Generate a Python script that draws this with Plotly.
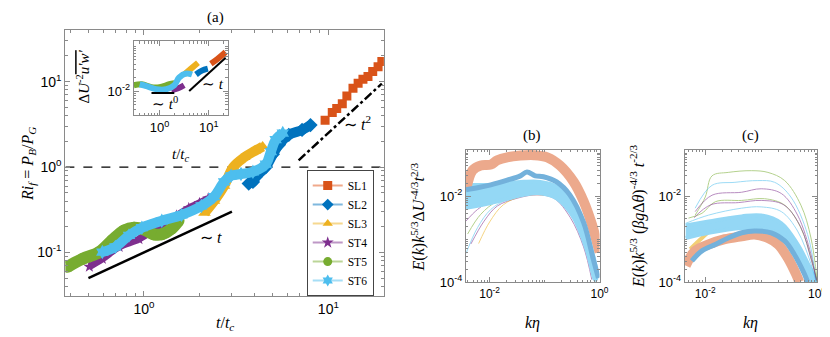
import numpy as np
import plotly.graph_objects as go

# ---- panel (a): Ri_f vs t/t_c ----
sl1_t = [9.6, 10.5, 11.1, 11.9, 12.6, 13.6, 14.5, 15.4, 16.4, 17.4, 18.6, 19.5]
sl1_ri = [3.54, 4.36, 4.85, 5.5, 6.8, 8.4, 9.6, 10.7, 11.5, 13.2, 15.0, 17.2]
sl2_t = [3.7, 3.9, 4.05, 4.58, 5.0, 5.4, 6.1, 7.2, 8.0]
sl2_ri = [0.64, 0.67, 0.77, 1.0, 1.41, 1.83, 2.38, 2.72, 3.1]
sl3_t = [2.13, 2.4, 2.72, 3.05, 3.5, 4.0, 4.4]
sl3_ri = [0.29, 0.4, 0.6, 1.0, 1.3, 1.55, 1.74]
st4_t = [0.506, 0.595, 0.734, 0.94, 1.2, 1.5, 1.75, 2.0, 2.23]
st4_ri = [0.068, 0.084, 0.116, 0.143, 0.2, 0.27, 0.33, 0.38, 0.43]
st5_t = [0.386, 0.464, 0.573, 0.673, 0.78, 0.884, 1.0, 1.13, 1.25, 1.41, 1.54]
st5_ri = [0.068, 0.084, 0.101, 0.139, 0.181, 0.195, 0.186, 0.163, 0.163, 0.19, 0.235]
st6_t = [0.595, 0.70, 0.83, 0.975, 1.25, 1.6, 2.05, 2.4, 2.72, 2.97, 3.36, 3.9, 4.58, 4.88, 5.18, 5.66]
st6_ri = [0.101, 0.116, 0.158, 0.195, 0.235, 0.275, 0.35, 0.45, 0.67, 0.79, 0.83, 0.88, 1.08, 1.52, 2.09, 2.5]

slope1_t = [0.5, 3.0]
slope1_ri = [0.05, 0.3]
slope2_t = [6.9, 19.5]
slope2_ri = [1.2, 9.5]
ri_crit_t = [0.375, 20.0]
ri_crit = [1.0, 1.0]

# inset: Delta U^-2 u'w'
in_st5_t = [0.302, 0.437, 0.692, 1.0, 1.585, 2.0]
in_st5_y = [0.0135, 0.0142, 0.0122, 0.0122, 0.0142, 0.0149]
in_st6_t = [0.398, 0.55, 0.871, 1.38, 2.0, 2.51, 3.47, 4.57]
in_st6_y = [0.0142, 0.0129, 0.011, 0.011, 0.0135, 0.0201, 0.0246, 0.0234]
in_st4_t = [1.74, 2.4, 3.16]
in_st4_y = [0.0105, 0.0116, 0.0135]
in_sl3_t = [3.16, 4.37, 6.03]
in_sl3_y = [0.0234, 0.0316, 0.0427]
in_sl2_t = [5.5, 7.24, 9.55]
in_sl2_y = [0.0234, 0.0286, 0.0316]
in_sl1_t = [11.0, 15.1, 21.9]
in_sl1_y = [0.0406, 0.0521, 0.0741]
in_flat_t = [0.69, 2.0]
in_flat_y = [0.0091, 0.0091]
in_lin_t = [4.0, 21.9]
in_lin_y = [0.01, 0.055]

# ---- panel (b): velocity spectra ----
b_sl1_k = [0.00372, 0.0049, 0.0069, 0.0105, 0.0138, 0.0209, 0.0363, 0.0646, 0.112, 0.191, 0.339, 0.513, 0.724, 1.0]
b_sl1_e = [0.0138, 0.0398, 0.0513, 0.0537, 0.0676, 0.0794, 0.0871, 0.0891, 0.0794, 0.0513, 0.0214, 0.00759, 0.00224, 0.000501]
b_sl2_k = [0.00372, 0.0063, 0.0105, 0.0209, 0.0363, 0.0479, 0.0676, 0.0955, 0.166, 0.288, 0.513, 0.776, 0.955]
b_sl2_e = [0.0141, 0.0158, 0.0182, 0.0234, 0.0295, 0.0363, 0.0295, 0.0282, 0.0214, 0.0107, 0.00245, 0.000331, 0.000126]
b_band_top_k = [0.00372, 0.0105, 0.0417, 0.0832, 0.166, 0.339, 0.589, 0.891]
b_band_top_e = [0.0182, 0.0182, 0.0214, 0.0214, 0.0166, 0.00646, 0.00132, 0.000138]
b_band_bot_k = [0.00372, 0.0105, 0.0417, 0.0832, 0.166, 0.339, 0.589, 0.832]
b_band_bot_e = [0.00537, 0.00692, 0.0107, 0.0117, 0.00891, 0.00316, 0.00055, 0.000115]
b_thin = [
    ("#4DBEEE", [0.00372, 0.00603, 0.0105, 0.0209, 0.0646, 0.148, 0.295, 0.513, 0.776],
     [0.000468, 0.00186, 0.0049, 0.00832, 0.0117, 0.00977, 0.0038, 0.000776, 0.000115]),
    ("#7E2F8E", [0.00457, 0.00794, 0.0138, 0.0316, 0.0724, 0.148, 0.295, 0.513, 0.724],
     [0.000776, 0.00263, 0.00589, 0.00891, 0.0107, 0.00891, 0.00316, 0.000661, 0.000115]),
    ("#77AC30", [0.00398, 0.00692, 0.0138, 0.0417, 0.0832, 0.17, 0.339, 0.589, 0.832],
     [0.00132, 0.0038, 0.00759, 0.0112, 0.0123, 0.00977, 0.00316, 0.00055, 0.000105]),
    ("#7E2F8E", [0.00372, 0.00603, 0.012, 0.0417, 0.1, 0.2, 0.355, 0.562, 0.794],
     [0.00263, 0.0049, 0.00832, 0.0117, 0.0112, 0.00794, 0.00282, 0.000631, 0.000112]),
    ("#EDB120", [0.00631, 0.01, 0.0178, 0.0398, 0.1, 0.2, 0.355, 0.562, 0.794],
     [0.000794, 0.00251, 0.00631, 0.01, 0.0105, 0.00794, 0.00282, 0.000631, 0.000112]),
]

# ---- panel (c): scalar spectra ----
c_sl1_k = [0.00447, 0.0066, 0.0115, 0.0224, 0.0447, 0.0759, 0.132, 0.2, 0.295, 0.417, 0.479]
c_sl1_e = [0.000245, 0.000537, 0.000759, 0.001, 0.00117, 0.00129, 0.00107, 0.000759, 0.00038, 0.000158, 0.000102]
c_sl2_k = [0.00575, 0.00871, 0.0151, 0.0257, 0.0447, 0.0759, 0.151, 0.263, 0.389, 0.589, 0.676]
c_sl2_e = [0.000316, 0.000537, 0.000759, 0.00107, 0.00141, 0.00155, 0.00141, 0.000912, 0.000447, 0.000158, 0.000102]
c_sl3_k = [0.00537, 0.00871, 0.0224, 0.0447]
c_sl3_e = [0.000589, 0.00107, 0.00282, 0.00309]
c_band_top_k = [0.00447, 0.0115, 0.0447, 0.1, 0.229, 0.447, 0.776, 0.955]
c_band_top_e = [0.00209, 0.00257, 0.00339, 0.00355, 0.00234, 0.000759, 0.000191, 0.000102]
c_band_bot_k = [0.00447, 0.0115, 0.0447, 0.1, 0.229, 0.447, 0.724]
c_band_bot_e = [0.00107, 0.00141, 0.00182, 0.00178, 0.00129, 0.000447, 0.000102]
c_thin = [
    ("#77AC30", [0.0066, 0.01, 0.0132, 0.0257, 0.0676, 0.132, 0.263, 0.513, 0.776, 1.0],
     [0.00363, 0.00955, 0.0295, 0.0355, 0.0389, 0.0355, 0.0229, 0.00617, 0.00107, 0.000112]),
    ("#4DBEEE", [0.0066, 0.0132, 0.0339, 0.0871, 0.174, 0.339, 0.676, 0.955],
     [0.00525, 0.0178, 0.0209, 0.0229, 0.0209, 0.00955, 0.00129, 0.000112]),
    ("#7E2F8E", [0.0066, 0.0132, 0.0447, 0.1, 0.229, 0.447, 0.776, 0.955],
     [0.00437, 0.0105, 0.0123, 0.0148, 0.0115, 0.00363, 0.000447, 0.000112]),
    ("#77AC30", [0.00501, 0.00871, 0.0151, 0.0447, 0.115, 0.263, 0.513, 0.832, 1.0],
     [0.00309, 0.00398, 0.00741, 0.00794, 0.00871, 0.00617, 0.00182, 0.000269, 0.000102]),
    ("#4DBEEE", [0.00447, 0.0115, 0.0447, 0.1, 0.229, 0.447, 0.776, 0.955],
     [0.00234, 0.00363, 0.00525, 0.00562, 0.00437, 0.00155, 0.000269, 0.000102]),
    ("#7E2F8E", [0.00631, 0.0126, 0.0398, 0.1, 0.251, 0.501, 0.794, 1.0],
     [0.00316, 0.00631, 0.00708, 0.00794, 0.00631, 0.002, 0.000316, 0.000105]),
]

names = ["SL1", "SL2", "SL3", "ST4", "ST5", "ST6"]
colors = ["#D95319", "#0072BD", "#EDB120", "#7E2F8E", "#77AC30", "#4DBEEE"]
light = ["#F0A98B", "#7FB8DE", "#F6D88F", "#BE97C6", "#BBD597", "#A6DEF6"]
symbols = ["square", "diamond", "triangle-up", "star", "circle", "hexagram"]

main_tickvals = [1, 10]
main_ticktext = ["10<sup>0</sup>", "10<sup>1</sup>"]
main_ytickvals = [0.1, 1, 10]
main_yticktext = ["10<sup>-1</sup>", "10<sup>0</sup>", "10<sup>1</sup>"]
spec_xtickvals = [0.01, 1]
spec_xticktext = ["10<sup>-2</sup>", "10<sup>0</sup>"]
spec_ytickvals = [1e-4, 1e-2]
spec_yticktext = ["10<sup>-4</sup>", "10<sup>-2</sup>"]
inset_ytickvals = [0.01]
inset_yticktext = ["10<sup>-2</sup>"]

SERIF = "Liberation Serif, Times New Roman, serif"
SANS = "Liberation Sans, Arial, sans-serif"
AX = "#8a8a8a"

fig = go.Figure()

def sc(x, y, ax, **kw):
    fig.add_trace(go.Scatter(x=x, y=y, xaxis="x" + ax, yaxis="y" + ax,
                             showlegend=False, hoverinfo="skip", **kw))

# main panel reference lines
sc(ri_crit_t, ri_crit, "", mode="lines", line=dict(color="black", width=1.3, dash="dash"))
sc(slope1_t, slope1_ri, "", mode="lines", line=dict(color="black", width=2.5))
sc(slope2_t, slope2_ri, "", mode="lines", line=dict(color="black", width=2.5, dash="dashdot"))

main_data = [(sl1_t, sl1_ri), (sl2_t, sl2_ri), (sl3_t, sl3_ri),
             (st4_t, st4_ri), (st5_t, st5_ri), (st6_t, st6_ri)]
widths = [0, 10, 10, 7, 12, 10]
msize = [9, 11, 11, 9, 12, 11]
for i, (t, r) in enumerate(main_data):
    if i == 0:
        sc(t, r, "", mode="markers",
           marker=dict(symbol=symbols[i], size=msize[i], color=colors[i]))
    else:
        sc(t, r, "", mode="lines+markers", line=dict(color=colors[i], width=widths[i], shape="spline"),
           marker=dict(symbol=symbols[i], size=msize[i], color=colors[i]))

# legend-only entries
for i in range(6):
    fig.add_trace(go.Scatter(x=[None], y=[None], name=names[i], mode="lines+markers",
                             line=dict(color=light[i], width=2),
                             marker=dict(symbol=symbols[i], size=9, color=colors[i]),
                             xaxis="x", yaxis="y"))

# inset
inset_data = [(in_sl1_t, in_sl1_y), (in_sl2_t, in_sl2_y), (in_sl3_t, in_sl3_y),
              (in_st4_t, in_st4_y), (in_st5_t, in_st5_y), (in_st6_t, in_st6_y)]
for i, (t, y) in enumerate(inset_data):
    sc(t, y, "2", mode="lines", line=dict(color=colors[i], width=6, shape="spline"))
sc(in_flat_t, in_flat_y, "2", mode="lines", line=dict(color="black", width=2))
sc(in_lin_t, in_lin_y, "2", mode="lines", line=dict(color="black", width=2))

# panel (b)
for col, k, e in b_thin:
    sc(k, e, "3", mode="lines", line=dict(color=col, width=1, shape="spline"), opacity=0.55)
sc(b_band_top_k + b_band_bot_k[::-1], b_band_top_e + b_band_bot_e[::-1], "3", mode="lines",
   fill="toself", fillcolor="#94D8F5", line=dict(color="#94D8F5", width=4, shape="spline"))
sc(b_sl1_k, b_sl1_e, "3", mode="lines", line=dict(color="#ECA98C", width=10, shape="spline"))
sc(b_sl2_k, b_sl2_e, "3", mode="lines", line=dict(color="#73B1DB", width=5, shape="spline"))

# panel (c)
sc(c_sl3_k, c_sl3_e, "4", mode="lines", line=dict(color="#F3CF76", width=4, shape="spline"))
sc(c_band_top_k + c_band_bot_k[::-1], c_band_top_e + c_band_bot_e[::-1], "4", mode="lines",
   fill="toself", fillcolor="#94D8F5", line=dict(color="#94D8F5", width=4, shape="spline"))
sc(c_sl1_k, c_sl1_e, "4", mode="lines", line=dict(color="#ECA98C", width=10, shape="spline"))
sc(c_sl2_k, c_sl2_e, "4", mode="lines", line=dict(color="#73B1DB", width=5, shape="spline"))
for col, k, e in c_thin:
    sc(k, e, "4", mode="lines", line=dict(color=col, width=1, shape="spline"), opacity=0.55)


def logax(domain, rng, tv, tt, size=13, anchor=None):
    return dict(type="log", domain=domain, range=rng, tickvals=tv, ticktext=tt,
                ticks="inside", ticklen=5, tickcolor=AX, showline=True, linecolor=AX,
                linewidth=1, mirror="allticks", showgrid=False, zeroline=False,
                tickfont=dict(family=SANS, size=size, color="black"), anchor=anchor,
                minor=dict(ticks="inside", ticklen=2.5, tickcolor=AX, dtick="D1", showgrid=False))


W, H = 830, 337
def px(x0, x1):
    return [x0 / W, x1 / W]
def py(top, bot):
    return [1 - bot / H, 1 - top / H]

fig.update_layout(
    width=W, height=H, margin=dict(l=0, r=0, t=0, b=0),
    plot_bgcolor="white", paper_bgcolor="white",
    xaxis=logax(px(58, 380), [np.log10(0.375), np.log10(20)], main_tickvals, main_ticktext, 14, "y"),
    yaxis=logax(py(23, 295), [-1.51, 1.60], main_ytickvals, main_yticktext, 14, "x"),
    xaxis2=logax(px(127, 222), [np.log10(0.3), np.log10(24)], main_tickvals, main_ticktext, 13, "y2"),
    yaxis2=logax(py(34, 110), [-2.54, -0.89], inset_ytickvals, inset_yticktext, 13, "x2"),
    xaxis3=logax(px(463, 598), [-2.43, 0], spec_xtickvals, spec_xticktext, 12, "y3"),
    yaxis3=logax(py(145, 281), [-4, -0.92], spec_ytickvals, spec_yticktext, 13, "x3"),
    xaxis4=logax(px(684, 818), [-2.37, 0], spec_xtickvals, spec_xticktext, 12, "y4"),
    yaxis4=logax(py(145, 281), [-4, -0.92], spec_ytickvals, spec_yticktext, 13, "x4"),
    legend=dict(x=302 / W, y=1 - 166 / H, xanchor="left", yanchor="top",
                bgcolor="white", bordercolor="#444", borderwidth=1,
                font=dict(family=SERIF, size=11.5, color="black"),
                tracegroupgap=0, itemwidth=30),
    showlegend=True,
)

ann = []
def note(x, y, text, size=15, xref="paper", yref="paper", angle=0):
    ann.append(dict(x=x, y=y, xref=xref, yref=yref, text=text, showarrow=False,
                    textangle=angle, font=dict(family=SERIF, size=size, color="black"),
                    xanchor="center", yanchor="middle"))

note(210 / W, 1 - 10 / H, "(a)")
note(530 / W, 1 - 131 / H, "(b)")
note(751 / W, 1 - 131 / H, "(c)")
note(219 / W, 1 - 323 / H, "<i>t</i>/<i>t<sub>c</sub></i>", 16)
note(175 / W, 1 - 151 / H, "<i>t</i>/<i>t<sub>c</sub></i>", 15)
note(530 / W, 1 - 323 / H, "<i>kη</i>", 16)
note(751 / W, 1 - 323 / H, "<i>kη</i>", 16)
note(20 / W, 1 - 160 / H, "<i>Ri<sub>f</sub></i> = <i>P<sub>B</sub></i>/<i>P<sub>G</sub></i>", 16, angle=-90)
note(76 / W, 1 - 70 / H, "Δ<i>U</i><sup>-2</sup><span style='text-decoration:overline'><i>u′w′</i></span>",
     15, angle=-90)
note(415 / W, 1 - 214 / H,
     "<i>E</i>(<i>k</i>)<i>k</i><sup>5/3</sup>Δ<i>U</i><sup>-4/3</sup><i>t</i><sup>2/3</sup>", 16, angle=-90)
note(637 / W, 1 - 213 / H,
     "<i>E</i>(<i>k</i>)<i>k</i><sup>5/3</sup> (<i>βg</i>Δ<i>θ</i>)<sup>-4/3</sup> <i>t</i><sup>-2/3</sup>",
     16, angle=-90)
# scaling-law labels in data coordinates (log10 for log axes)
note(np.log10(2.3), np.log10(0.15), "∼ <i>t</i>", 16, "x", "y")
note(np.log10(14.3), np.log10(3.3), "∼ <i>t</i><sup>2</sup>", 16, "x", "y")
note(np.log10(1.3), np.log10(0.0055), "∼ <i>t</i><sup>0</sup>", 15, "x2", "y2")
note(np.log10(12), np.log10(0.0141), "∼ <i>t</i>", 15, "x2", "y2")
fig.update_layout(annotations=ann)

fig.write_html("out.html")
